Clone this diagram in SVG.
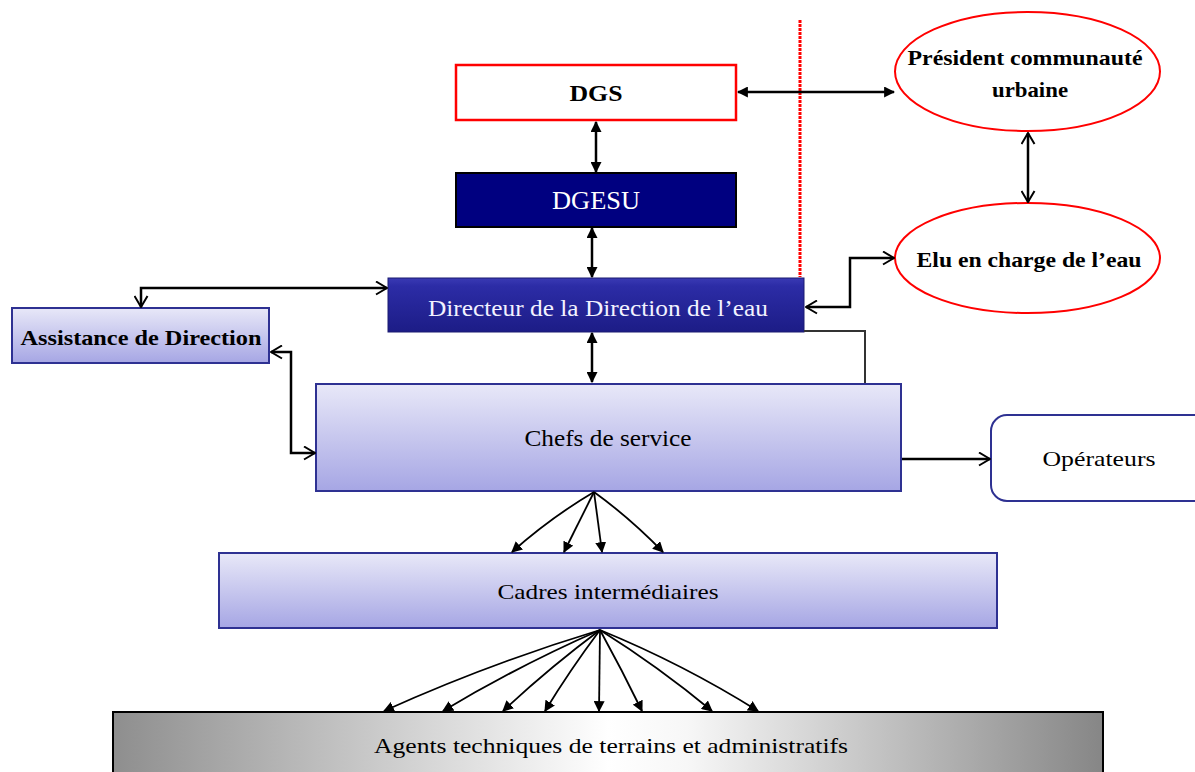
<svg xmlns="http://www.w3.org/2000/svg" width="1195" height="772" viewBox="0 0 1195 772">
<defs>
<linearGradient id="lav" x1="0" y1="0" x2="0" y2="1">
<stop offset="0" stop-color="#e8e8f8"/>
<stop offset="1" stop-color="#a6a6e4"/>
</linearGradient>
<linearGradient id="dir" x1="0" y1="0" x2="0" y2="1">
<stop offset="0" stop-color="#3a3ab4"/>
<stop offset="0.15" stop-color="#2c2ca6"/>
<stop offset="1" stop-color="#1c1c86"/>
</linearGradient>
<linearGradient id="gray" x1="0" y1="0" x2="1" y2="0">
<stop offset="0" stop-color="#8e8e8e"/>
<stop offset="0.5" stop-color="#ffffff"/>
<stop offset="0.58" stop-color="#f7f7f7"/>
<stop offset="1" stop-color="#868686"/>
</linearGradient>
<marker id="fill" viewBox="0 0 10 10" refX="9" refY="5" markerWidth="11" markerHeight="11" markerUnits="userSpaceOnUse" orient="auto-start-reverse">
<path d="M0,0 L10,5 L0,10 z" fill="#000"/>
</marker>
<marker id="open" viewBox="0 0 13 15" refX="12" refY="7.5" markerWidth="13" markerHeight="15" markerUnits="userSpaceOnUse" orient="auto-start-reverse">
<path d="M1,1 L12,7.5 L1,14" fill="none" stroke="#000" stroke-width="2"/>
</marker>
</defs>
<style>
.t{font-family:"Liberation Serif","Times New Roman",serif;text-anchor:middle;fill:#000}
.b{font-weight:bold}
.box{fill:url(#lav);stroke:#2e3192;stroke-width:2}
.c{fill:none;stroke:#000;stroke-width:2.5}
.f{fill:none;stroke:#000;stroke-width:1.8}
</style>
<rect width="1195" height="772" fill="#fff"/>
<line x1="800" y1="20" x2="800" y2="277" stroke="#ff0000" stroke-width="3" stroke-dasharray="3,1"/>

<g id="dgs">
<rect x="456" y="65" width="280" height="55" fill="#fff" stroke="#ff0000" stroke-width="2.5"/>
<text class="t b" x="596" y="101" font-size="24" textLength="53" lengthAdjust="spacingAndGlyphs">DGS</text>
</g>
<g id="dgesu">
<rect x="456" y="173" width="280" height="54" fill="#000080" stroke="#000" stroke-width="2"/>
<text class="t" x="596" y="209" font-size="25" style="fill:#fff" textLength="88" lengthAdjust="spacingAndGlyphs">DGESU</text>
</g>
<g id="directeur">
<rect x="388" y="278" width="416" height="54" fill="url(#dir)" stroke="#1a1a70" stroke-width="1"/>
<text class="t" x="598" y="316" font-size="23" style="fill:#f2f2ff" textLength="340" lengthAdjust="spacingAndGlyphs">Directeur de la Direction de l’eau</text>
</g>
<g id="president">
<ellipse cx="1027.5" cy="71.5" rx="132.5" ry="59.5" fill="#fff" stroke="#ff0000" stroke-width="2"/>
<text class="t b" x="1025" y="65" font-size="21" textLength="235" lengthAdjust="spacingAndGlyphs">Président communauté</text>
<text class="t b" x="1030" y="97" font-size="21" textLength="76" lengthAdjust="spacingAndGlyphs">urbaine</text>
</g>
<g id="elu">
<ellipse cx="1027.5" cy="258" rx="132.5" ry="55" fill="#fff" stroke="#ff0000" stroke-width="2"/>
<text class="t b" x="1029" y="267" font-size="21" textLength="225" lengthAdjust="spacingAndGlyphs">Elu en charge de l’eau</text>
</g>
<g id="assistance">
<rect class="box" x="12" y="308" width="257" height="55"/>
<text class="t b" x="141" y="345" font-size="21" textLength="241" lengthAdjust="spacingAndGlyphs">Assistance de Direction</text>
</g>
<g id="chefs">
<rect class="box" x="316" y="384" width="585" height="107"/>
<text class="t" x="608" y="446" font-size="23" textLength="167" lengthAdjust="spacingAndGlyphs">Chefs de service</text>
</g>
<g id="operateurs">
<rect x="991" y="415" width="220" height="86" rx="16" ry="16" fill="#fff" stroke="#2e3192" stroke-width="2"/>
<text class="t" x="1099" y="466" font-size="22" textLength="113" lengthAdjust="spacingAndGlyphs">Opérateurs</text>
</g>
<g id="cadres">
<rect class="box" x="219" y="553" width="778" height="75"/>
<text class="t" x="608" y="599" font-size="22" textLength="221" lengthAdjust="spacingAndGlyphs">Cadres intermédiaires</text>
</g>
<g id="agents">
<rect x="113" y="712" width="990" height="70" fill="url(#gray)" stroke="#000" stroke-width="2"/>
<text class="t" x="611" y="753" font-size="21" textLength="474" lengthAdjust="spacingAndGlyphs">Agents techniques de terrains et administratifs</text>
</g>

<g id="connectors">
<line class="c" x1="738" y1="92" x2="894" y2="92" marker-start="url(#fill)" marker-end="url(#fill)"/>
<line class="c" x1="596" y1="122" x2="596" y2="172" marker-start="url(#fill)" marker-end="url(#fill)"/>
<line class="c" x1="592" y1="228" x2="592" y2="277" marker-start="url(#fill)" marker-end="url(#fill)"/>
<line class="c" x1="592" y1="333" x2="592" y2="382" marker-start="url(#fill)" marker-end="url(#fill)"/>
<path class="c" d="M806,307 H850 V258 H894" marker-start="url(#open)" marker-end="url(#open)"/>
<path d="M804,331 H865 V383" fill="none" stroke="#333" stroke-width="2"/>
<path class="c" d="M141,307 V288 H387" marker-start="url(#open)" marker-end="url(#open)"/>
<path class="c" d="M271,352 H291 V453 H315" marker-start="url(#open)" marker-end="url(#open)"/>
<path class="c" d="M1028,133 V202" marker-start="url(#open)" marker-end="url(#open)"/>
<path class="c" d="M902,459 H990" marker-end="url(#open)"/>

<path class="f" d="M594,492 Q550,518 512,552" marker-end="url(#fill)"/>
<path class="f" d="M594,492 Q580,520 564,552" marker-end="url(#fill)"/>
<path class="f" d="M594,492 Q598,522 602,552" marker-end="url(#fill)"/>
<path class="f" d="M594,492 Q630,518 663,552" marker-end="url(#fill)"/>

<path class="f" d="M600,630 Q488,664 384,711" marker-end="url(#fill)"/>
<path class="f" d="M600,630 Q518,666 443,711" marker-end="url(#fill)"/>
<path class="f" d="M600,630 Q549,668 503,711" marker-end="url(#fill)"/>
<path class="f" d="M600,630 Q570,670 545,711" marker-end="url(#fill)"/>
<path class="f" d="M600,630 L599,711" marker-end="url(#fill)"/>
<path class="f" d="M600,630 Q622,670 642,711" marker-end="url(#fill)"/>
<path class="f" d="M600,630 Q659,667 712,711" marker-end="url(#fill)"/>
<path class="f" d="M600,630 Q683,664 758,711" marker-end="url(#fill)"/>
</g>
</svg>
